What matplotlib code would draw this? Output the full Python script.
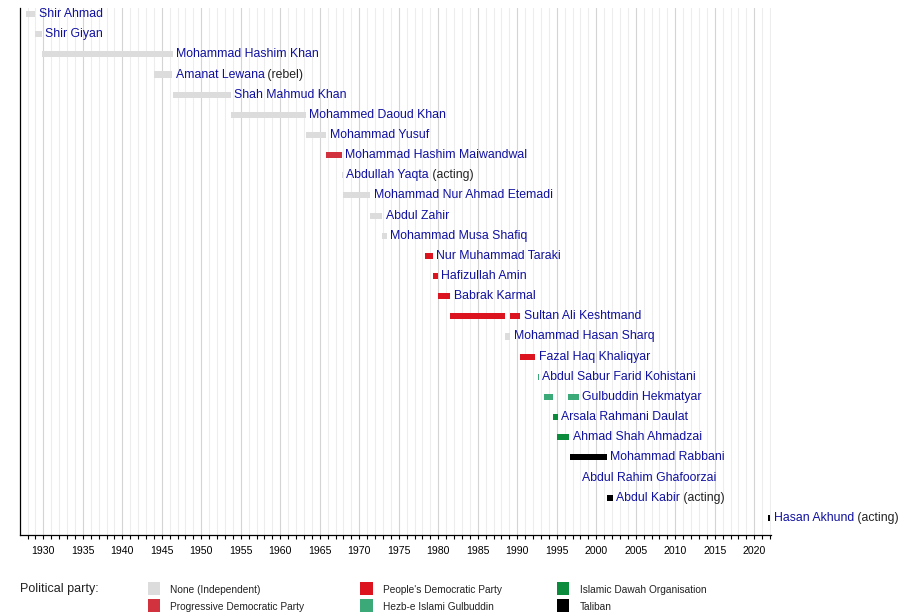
import matplotlib
matplotlib.use("Agg")
import matplotlib.pyplot as plt
from matplotlib.patches import Rectangle
from matplotlib.ticker import MultipleLocator

plt.rcParams['font.family'] = ['Liberation Sans', 'DejaVu Sans']

# one row per person, top to bottom
names = ["Shir Ahmad", "Shir Giyan", "Mohammad Hashim Khan", "Amanat Lewana",
         "Shah Mahmud Khan", "Mohammed Daoud Khan", "Mohammad Yusuf",
         "Mohammad Hashim Maiwandwal", "Abdullah Yaqta", "Mohammad Nur Ahmad Etemadi",
         "Abdul Zahir", "Mohammad Musa Shafiq", "Nur Muhammad Taraki",
         "Hafizullah Amin", "Babrak Karmal", "Sultan Ali Keshtmand",
         "Mohammad Hasan Sharq", "Fazal Haq Khaliqyar", "Abdul Sabur Farid Kohistani",
         "Gulbuddin Hekmatyar", "Arsala Rahmani Daulat", "Ahmad Shah Ahmadzai",
         "Mohammad Rabbani", "Abdul Rahim Ghafoorzai", "Abdul Kabir", "Hasan Akhund"]
notes = ["", "", "", "(rebel)", "", "", "", "", "(acting)", "", "", "", "", "",
         "", "", "", "", "", "", "", "", "", "", "(acting)", "(acting)"]

# terms (flat), with the row they belong to
term_row = [0, 1, 2, 3, 4, 5, 6, 7, 8, 9, 10, 11, 12, 13, 14, 15, 15, 16, 17,
            18, 19, 19, 20, 21, 22, 23, 24, 25]
term_start = [1927.8, 1929.0, 1929.8, 1944.0, 1946.4, 1953.7, 1963.2, 1965.8,
              1967.8, 1967.9, 1971.4, 1972.9, 1978.3, 1979.3, 1979.95, 1981.5,
              1989.1, 1988.4, 1990.4, 1992.6, 1993.4, 1996.4, 1994.5, 1995.0,
              1996.7, 1997.75, 2001.3, 2021.7]
term_end = [1929.0, 1929.8, 1946.4, 1946.3, 1953.7, 1963.2, 1965.8, 1967.8,
            1967.9, 1971.4, 1972.9, 1973.5, 1979.3, 1979.95, 1981.5, 1988.4,
            1990.4, 1989.1, 1992.3, 1992.75, 1994.5, 1997.8, 1995.1, 1996.6,
            2001.3, 1997.75, 2002.1, 2022.05]
term_party = ["none", "none", "none", "none", "none", "none", "none", "pdp",
              "none", "none", "none", "none", "pdpa", "pdpa", "pdpa", "pdpa",
              "pdpa", "none", "pdpa", "hezb", "hezb", "hezb", "dawah", "dawah",
              "taliban", "none", "taliban", "taliban"]

party_keys = ["none", "pdp", "pdpa", "hezb", "dawah", "taliban"]
party_labels = ["None (Independent)", "Progressive Democratic Party",
                "People's Democratic Party", "Hezb-e Islami Gulbuddin",
                "Islamic Dawah Organisation", "Taliban"]
party_colors = ["#dcdcdc", "#d2323e", "#dc1420", "#3caa78", "#0a8c3c", "#000000"]
colmap = dict(zip(party_keys, party_colors))

fig = plt.figure(figsize=(9, 6.15), dpi=100)
ax = fig.add_axes([20 / 900, 1 - 535 / 615, 750.7 / 900, 527 / 615])

bar_h = 0.3
for r, s, e, p in zip(term_row, term_start, term_end, term_party):
    ax.add_patch(Rectangle((s, r - bar_h / 2), e - s, bar_h, color=colmap[p],
                           lw=0, zorder=3))

for i, (nm, nt) in enumerate(zip(names, notes)):
    end = max(e for r, e in zip(term_row, term_end) if r == i)
    t = ax.annotate(nm, xy=(end, i), xytext=(2.5, 0), textcoords="offset points",
                    va="center", ha="left", fontsize=8.8, color="#1010a0",
                    zorder=4, annotation_clip=False)
    if nt:
        ax.annotate(" " + nt, xy=(1, 0), xycoords=t, va="bottom", ha="left",
                    fontsize=8.8, color="#222222", annotation_clip=False)

ax.set_xlim(1927.05, 2022.08)
ax.set_ylim(25.85, -0.3)
ax.xaxis.set_major_locator(MultipleLocator(5))
ax.xaxis.set_minor_locator(MultipleLocator(1))
ax.grid(which="major", axis="x", color="#d4d4d4", lw=0.8, zorder=0)
ax.grid(which="minor", axis="x", color="#ededed", lw=0.8, zorder=0)
ax.set_axisbelow(True)
ax.set_yticks([])
ax.tick_params(axis="x", which="both", length=3, width=0.8, direction="out",
               labelsize=7.6, pad=5)
for sp in ["top", "right"]:
    ax.spines[sp].set_visible(False)
ax.spines["left"].set_linewidth(0.9)
ax.spines["bottom"].set_linewidth(0.9)

# legend drawn in figure pixels
fig.text(20 / 900, 1 - 589 / 615, "Political party:", fontsize=9,
         va="center", ha="left", color="#222222")
col_x = [147.5, 360, 556.7]
row_y = [582, 599]
for k, (lab, c) in enumerate(zip(party_labels, party_colors)):
    if k < 2:
        cx, ry = col_x[0], row_y[k]
    elif k < 4:
        cx, ry = col_x[1], row_y[k - 2]
    else:
        cx, ry = col_x[2], row_y[k - 4]
    fig.add_artist(Rectangle((cx / 900, 1 - (ry + 13) / 615), 12.7 / 900,
                             13 / 615, color=c, lw=0, transform=fig.transFigure))
    fig.text((cx + 23) / 900, 1 - (ry + 8) / 615, lab, fontsize=7.3,
             va="center", ha="left", color="#222222")

fig.savefig("out.png", dpi=100)
